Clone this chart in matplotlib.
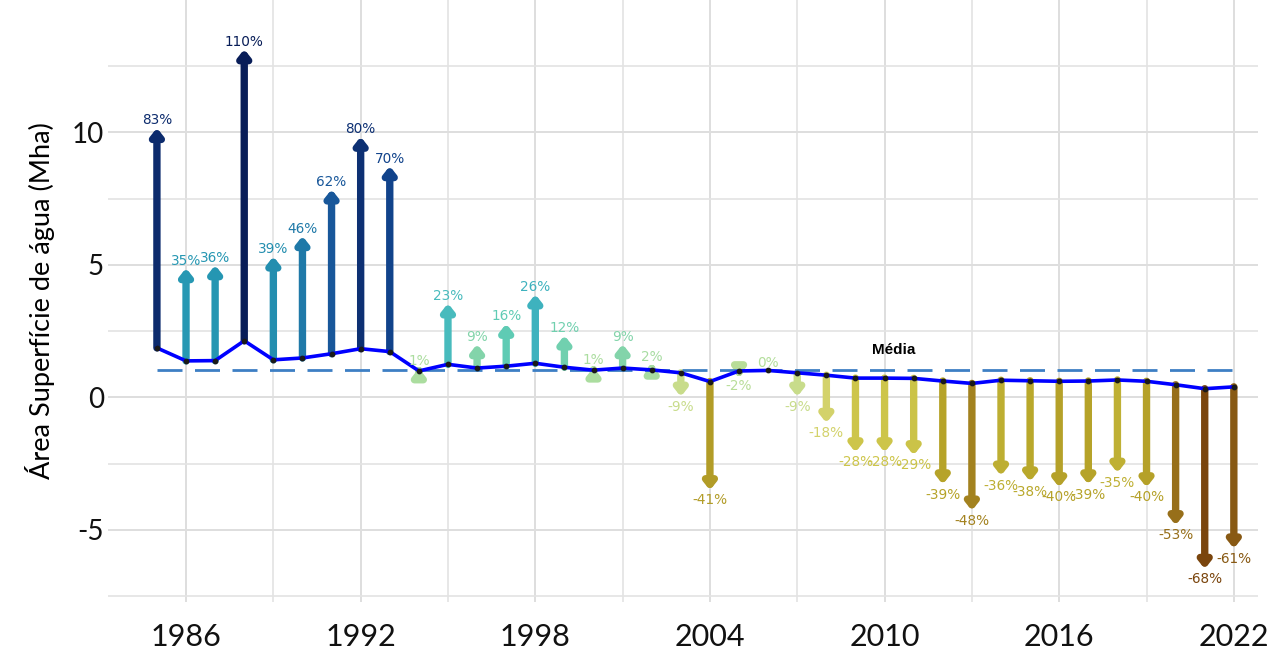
import matplotlib
matplotlib.use("Agg")
import matplotlib.pyplot as plt
from matplotlib.colors import LinearSegmentedColormap, Normalize
import numpy as np

# dados
anos = list(range(1985, 2023))
pct = [83, 35, 36, 110, 39, 46, 62, 80, 70, 1,
       23, 9, 16, 26, 12, 1, 9, 2, -9, -41,
       -2, 0, -9, -18, -28, -28, -29, -39, -48, -36,
       -38, -40, -39, -35, -40, -53, -68, -61]
area = [1.87, 1.38, 1.39, 2.14, 1.42, 1.49, 1.65, 1.84, 1.73, 1.00,
        1.25, 1.11, 1.18, 1.29, 1.14, 1.03, 1.11, 1.04, 0.93, 0.60,
        1.00, 1.02, 0.93, 0.84, 0.73, 0.73, 0.72, 0.62, 0.53, 0.65,
        0.63, 0.61, 0.62, 0.66, 0.61, 0.48, 0.33, 0.40]
media = 1.02
escala = 10.0  # pct / escala -> comprimento da seta (Mha)

# paleta aproximada
cores = [(-68, '#7a450d'), (-53, '#98701a'), (-45, '#ab9023'), (-38, '#b9a82b'),
         (-28, '#cdc64b'), (-18, '#d3d36c'), (-9, '#c8dc8c'), (0, '#b2de9c'),
         (2, '#a6dca2'), (9, '#82d4aa'), (16, '#5ecbb4'), (25, '#41b6c0'),
         (36, '#2596b2'), (46, '#1f78a8'), (62, '#18579a'), (72, '#103f88'),
         (82, '#0c2c6e'), (110, '#081d58')]
vmin, vmax = -68, 110
cmap = LinearSegmentedColormap.from_list(
    'agua', [((v - vmin) / (vmax - vmin), c) for v, c in cores])
norm = Normalize(vmin, vmax)

plt.rcParams['axes.unicode_minus'] = False
plt.rcParams['font.family'] = ['Lato', 'DejaVu Sans']

fig = plt.figure(figsize=(12.86, 6.57), dpi=100)
ax = fig.add_axes([0.084, 0.0837, 0.894, 0.9163])

for a, p, v in zip(anos, pct, area):
    c = cmap(norm(p))
    fim = v + p / escala
    ax.annotate('', xy=(a, fim), xytext=(a, v),
                arrowprops=dict(arrowstyle='-|>,head_length=0.4,head_width=0.32',
                                color=c, lw=5.3, shrinkA=0, shrinkB=0,
                                mutation_scale=10, joinstyle='round'),
                zorder=2)
    if p >= 0:
        ax.text(a, fim + 0.02, f'{p}%', ha='center', va='bottom', color=c,
                fontsize=9.8, family='DejaVu Sans', zorder=5)
    else:
        ax.text(a, fim - 0.12, f'{p}%', ha='center', va='top', color=c,
                fontsize=9.8, family='DejaVu Sans', zorder=5)

ax.plot([anos[0], anos[-1]], [media, media], color='#3d7fc4', lw=2,
        dashes=(9, 4.5), zorder=3)
ax.plot(anos, area, color='#0000ff', lw=2.6, zorder=4)
ax.scatter(anos, area, s=10, color='#1a1a1a', zorder=5)
ax.text(2010.3, media + 0.78, 'Média', ha='center', va='center',
        fontsize=11, fontweight='bold', family='Liberation Sans', color='black')

ax.set_xlim(1983.32, 2022.82)
ax.set_ylim(-7.72, 15.0)
ax.set_xticks(range(1986, 2023, 6))
ax.set_xticks(range(1989, 2023, 6), minor=True)
ax.set_yticks([-5, 0, 5, 10])
ax.set_yticks([-7.5, -2.5, 2.5, 7.5, 12.5], minor=True)
ax.grid(True, which='major', color='#dedede', lw=1.4)
ax.grid(True, which='minor', color='#e3e3e3', lw=1.2)
ax.set_axisbelow(True)
ax.tick_params(which='both', length=0)
ax.tick_params(axis='x', pad=15, labelsize=22, labelcolor='#111111')
ax.tick_params(axis='y', pad=3, labelsize=20, labelcolor='#111111')
for s in ax.spines.values():
    s.set_visible(False)
ax.set_ylabel('Área Superfície de água (Mha)', fontsize=19.5, labelpad=12)

fig.savefig('out.png', dpi=100)
